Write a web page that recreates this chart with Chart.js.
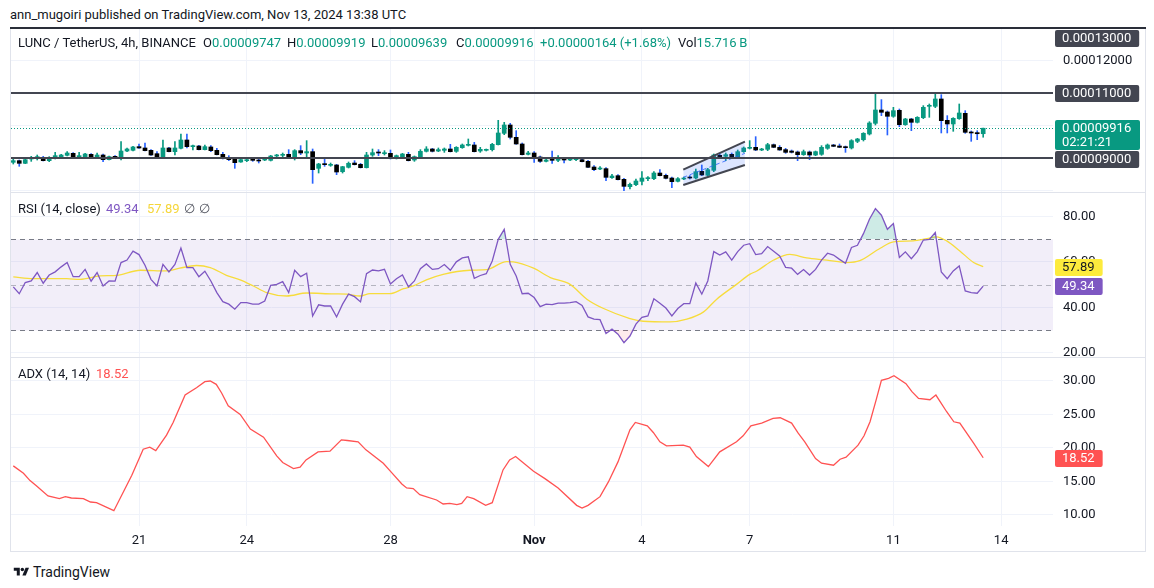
<!DOCTYPE html>
<html>
<head>
<meta charset="utf-8">
<title>LUNC / TetherUS, 4h</title>
<script src="https://cdn.jsdelivr.net/npm/chart.js@4.4.1/dist/chart.umd.min.js"></script>
<style>
  body{margin:0;background:#fff;}
  #page{position:relative;width:1154px;height:588px;overflow:hidden;font-family:Roboto,"Noto Sans",sans-serif;color:#131722;font-size:13px;}
  .t{position:absolute;white-space:nowrap;line-height:16px;z-index:3}
  .g{color:#089981}
  canvas{position:absolute;left:11px}
  .ln{position:absolute;background:#e0e3eb;z-index:2}
</style>
</head>
<body>
<div id="page">
  <div class="t" style="left:10px;top:7px">ann_mugoiri published on TradingView.com, Nov 13, 2024 13:38 UTC</div>

  <canvas id="cPrice" width="1134" height="165" style="top:28px"></canvas>
  <canvas id="cRsi" width="1134" height="165" style="top:193px"></canvas>
  <canvas id="cAdx" width="1134" height="193" style="top:358px"></canvas>

  <div class="ln" style="left:10px;top:28px;width:1px;height:524px"></div>
  <div class="ln" style="left:1145px;top:28px;width:1px;height:524px"></div>
  <div class="ln" style="left:10px;top:551px;width:1136px;height:1px"></div>
  <div class="ln" style="left:10px;top:192px;width:1136px;height:1px"></div>
  <div class="ln" style="left:10px;top:357px;width:1136px;height:1px"></div>
  <div style="position:absolute;left:10px;top:27px;width:1136px;height:2px;background:#2a2e39;z-index:2"></div>

  <div class="t" style="left:18px;top:35px">LUNC / TetherUS, 4h, BINANCE</div>
  <div class="t" style="left:203px;top:35px">O<span class="g">0.00009747</span></div>
  <div class="t" style="left:287px;top:35px">H<span class="g">0.00009919</span></div>
  <div class="t" style="left:371px;top:35px">L<span class="g">0.00009639</span></div>
  <div class="t" style="left:456px;top:35px">C<span class="g">0.00009916</span></div>
  <div class="t g" style="left:540px;top:35px">+0.00000164 (+1.68%)</div>
  <div class="t" style="left:678px;top:35px">Vol<span class="g">15.716&thinsp;B</span></div>

  <div class="t" style="left:18px;top:201px">RSI (14, close)</div>
  <div class="t" style="left:106px;top:201px;color:#7e57c2">49.34</div>
  <div class="t" style="left:147px;top:201px;color:#f5d63a">57.89</div>
  <div class="t" style="left:184px;top:201px;color:#50535e">&empty;</div>
  <div class="t" style="left:199px;top:201px;color:#50535e">&empty;</div>

  <div class="t" style="left:18px;top:366px">ADX (14, 14)</div>
  <div class="t" style="left:96px;top:366px;color:#ff5252">18.52</div>

  <svg style="position:absolute;left:13px;top:566px" width="17" height="12" viewBox="0 0 36 28">
    <path d="M14 22H7V11H0V4h14v18z" fill="#131722"/><circle cx="20" cy="8" r="4" fill="#131722"/><path d="M28 22h-8l7.5-18h8L28 22z" fill="#131722"/>
  </svg>
  <div class="t" style="left:33px;top:564px;font-size:14px">TradingView</div>
</div>

<script>
// LUNC/USDT 4h candles, index 0 = Oct 17 12:00 UTC, one bar every 4 hours
const open = [
  8867e-8,8918e-8,8836e-8,8969e-8,8979e-8,9021e-8,8918e-8,9010e-8,9041e-8,9082e-8,
  9144e-8,9041e-8,9031e-8,9113e-8,9021e-8,9092e-8,8949e-8,9031e-8,9010e-8,9215e-8,
  9236e-8,9349e-8,9308e-8,9236e-8,9133e-8,9041e-8,9308e-8,9195e-8,9298e-8,9554e-8,
  9349e-8,9369e-8,9257e-8,9339e-8,9236e-8,9113e-8,9000e-8,8959e-8,8877e-8,8918e-8,
  8949e-8,8928e-8,8938e-8,8928e-8,9062e-8,9082e-8,9113e-8,8990e-8,9226e-8,9154e-8,
  9195e-8,8682e-8,8815e-8,8774e-8,8785e-8,8579e-8,8713e-8,8846e-8,8805e-8,8702e-8,
  9092e-8,9164e-8,9133e-8,9144e-8,8990e-8,9031e-8,9113e-8,8938e-8,9031e-8,9205e-8,
  9277e-8,9215e-8,9236e-8,9277e-8,9205e-8,9318e-8,9390e-8,9400e-8,9215e-8,9236e-8,
  9257e-8,9410e-8,9759e-8,10016e-8,9636e-8,9431e-8,9113e-8,9154e-8,9031e-8,8897e-8,
  8938e-8,8928e-8,8949e-8,8938e-8,8949e-8,8949e-8,8897e-8,8723e-8,8661e-8,8672e-8,
  8395e-8,8456e-8,8343e-8,8118e-8,8179e-8,8282e-8,8364e-8,8364e-8,8538e-8,8467e-8,
  8384e-8,8282e-8,8354e-8,8395e-8,8384e-8,8590e-8,8467e-8,8620e-8,9082e-8,9051e-8,
  9113e-8,9010e-8,9195e-8,9298e-8,9328e-8,9246e-8,9267e-8,9410e-8,9328e-8,9257e-8,
  9215e-8,9185e-8,9103e-8,9185e-8,9092e-8,9113e-8,9298e-8,9400e-8,9369e-8,9349e-8,
  9308e-8,9513e-8,9564e-8,9739e-8,10067e-8,10477e-8,10416e-8,10283e-8,10467e-8,10026e-8,
  10200e-8,10098e-8,10241e-8,10590e-8,10590e-8,10816e-8,10159e-8,10047e-8,10211e-8,10375e-8,
  9800e-8,9780e-8,9747e-8
];
const high = [
  8969e-8,8938e-8,8959e-8,9051e-8,9092e-8,9051e-8,9041e-8,9174e-8,9113e-8,9195e-8,
  9164e-8,9174e-8,9144e-8,9133e-8,9154e-8,9123e-8,9062e-8,9072e-8,9503e-8,9308e-8,
  9359e-8,9431e-8,9462e-8,9257e-8,9195e-8,9554e-8,9328e-8,9503e-8,9739e-8,9739e-8,
  9400e-8,9390e-8,9400e-8,9380e-8,9298e-8,9174e-8,9072e-8,8990e-8,8959e-8,9000e-8,
  9000e-8,8969e-8,9000e-8,9082e-8,9113e-8,9154e-8,9257e-8,9257e-8,9380e-8,9534e-8,
  9277e-8,8836e-8,8969e-8,8846e-8,8805e-8,8744e-8,8877e-8,8918e-8,8836e-8,9174e-8,
  9277e-8,9257e-8,9226e-8,9246e-8,9092e-8,9144e-8,9174e-8,9062e-8,9257e-8,9349e-8,
  9298e-8,9308e-8,9308e-8,9421e-8,9349e-8,9431e-8,9585e-8,9482e-8,9328e-8,9277e-8,
  9451e-8,10159e-8,10098e-8,10067e-8,9841e-8,9462e-8,9205e-8,9195e-8,9062e-8,8969e-8,
  9215e-8,9072e-8,9021e-8,9021e-8,8990e-8,8990e-8,8928e-8,8764e-8,8733e-8,8702e-8,
  8497e-8,8487e-8,8374e-8,8231e-8,8354e-8,8579e-8,8425e-8,8579e-8,8641e-8,8508e-8,
  8415e-8,8395e-8,8415e-8,8456e-8,8661e-8,8785e-8,8682e-8,9123e-8,9123e-8,9154e-8,
  9154e-8,9246e-8,9339e-8,9534e-8,9657e-8,9298e-8,9451e-8,9431e-8,9380e-8,9298e-8,
  9246e-8,9215e-8,9246e-8,9215e-8,9215e-8,9380e-8,9431e-8,9421e-8,9431e-8,9369e-8,
  9564e-8,9605e-8,9780e-8,10118e-8,11001e-8,10796e-8,10447e-8,10560e-8,10508e-8,10221e-8,
  10221e-8,10272e-8,10611e-8,10662e-8,11021e-8,10949e-8,10303e-8,10241e-8,10662e-8,10457e-8,
  9831e-8,9841e-8,9919e-8
];
const low = [
  8815e-8,8744e-8,8826e-8,8897e-8,8938e-8,8908e-8,8887e-8,8969e-8,9010e-8,9062e-8,
  9010e-8,9000e-8,9010e-8,8979e-8,8990e-8,8887e-8,8938e-8,8990e-8,8938e-8,9195e-8,
  9215e-8,9298e-8,9215e-8,9082e-8,9021e-8,9010e-8,9185e-8,9092e-8,9277e-8,9308e-8,
  9246e-8,9246e-8,9246e-8,9195e-8,9092e-8,8969e-8,8918e-8,8682e-8,8867e-8,8887e-8,
  8897e-8,8846e-8,8918e-8,8908e-8,9041e-8,9041e-8,8979e-8,8938e-8,9103e-8,9041e-8,
  8220e-8,8538e-8,8744e-8,8744e-8,8487e-8,8538e-8,8692e-8,8785e-8,8692e-8,8692e-8,
  9051e-8,9072e-8,9092e-8,8969e-8,8969e-8,9010e-8,8908e-8,8897e-8,9010e-8,9185e-8,
  9185e-8,9195e-8,9174e-8,9185e-8,9174e-8,9298e-8,9369e-8,9185e-8,9174e-8,9215e-8,
  9215e-8,9400e-8,9718e-8,9585e-8,9421e-8,9092e-8,9092e-8,8867e-8,8867e-8,8877e-8,
  8836e-8,8887e-8,8846e-8,8918e-8,8918e-8,8877e-8,8702e-8,8610e-8,8641e-8,8302e-8,
  8374e-8,8323e-8,7995e-8,8046e-8,8148e-8,8169e-8,8302e-8,8333e-8,8446e-8,8354e-8,
  8087e-8,8261e-8,8333e-8,8354e-8,8354e-8,8456e-8,8446e-8,8579e-8,9010e-8,8918e-8,
  8990e-8,8990e-8,9174e-8,9277e-8,9226e-8,9226e-8,9226e-8,9318e-8,9236e-8,9144e-8,
  9154e-8,8918e-8,9082e-8,8949e-8,9072e-8,9082e-8,9267e-8,9349e-8,9318e-8,9174e-8,
  9277e-8,9472e-8,9523e-8,9708e-8,10016e-8,10303e-8,9708e-8,10252e-8,9964e-8,10005e-8,
  9841e-8,10077e-8,10211e-8,10252e-8,10549e-8,9770e-8,9770e-8,9821e-8,10190e-8,9759e-8,
  9513e-8,9564e-8,9639e-8
];
const close = [
  8918e-8,8836e-8,8949e-8,9000e-8,9041e-8,8918e-8,9021e-8,9072e-8,9092e-8,9154e-8,
  9021e-8,9072e-8,9123e-8,8990e-8,9092e-8,8949e-8,9041e-8,9021e-8,9215e-8,9277e-8,
  9339e-8,9308e-8,9226e-8,9092e-8,9041e-8,9308e-8,9195e-8,9308e-8,9554e-8,9349e-8,
  9380e-8,9257e-8,9349e-8,9226e-8,9103e-8,8990e-8,8949e-8,8856e-8,8949e-8,8949e-8,
  8928e-8,8908e-8,8969e-8,9062e-8,9092e-8,9092e-8,8990e-8,9226e-8,9154e-8,9195e-8,
  8641e-8,8815e-8,8795e-8,8805e-8,8569e-8,8733e-8,8836e-8,8795e-8,8702e-8,9092e-8,
  9164e-8,9154e-8,9164e-8,8990e-8,9072e-8,9123e-8,8918e-8,9041e-8,9205e-8,9277e-8,
  9205e-8,9257e-8,9277e-8,9195e-8,9328e-8,9400e-8,9410e-8,9195e-8,9267e-8,9267e-8,
  9421e-8,9770e-8,10016e-8,9636e-8,9431e-8,9103e-8,9154e-8,9021e-8,8897e-8,8938e-8,
  8928e-8,8959e-8,8938e-8,8969e-8,8959e-8,8887e-8,8713e-8,8641e-8,8692e-8,8405e-8,
  8446e-8,8333e-8,8128e-8,8189e-8,8292e-8,8384e-8,8395e-8,8538e-8,8456e-8,8374e-8,
  8272e-8,8364e-8,8384e-8,8384e-8,8579e-8,8477e-8,8641e-8,9092e-8,9041e-8,9103e-8,
  9000e-8,9195e-8,9308e-8,9328e-8,9246e-8,9277e-8,9410e-8,9328e-8,9246e-8,9174e-8,
  9174e-8,9103e-8,9195e-8,9092e-8,9195e-8,9328e-8,9400e-8,9359e-8,9328e-8,9318e-8,
  9534e-8,9585e-8,9759e-8,10077e-8,10477e-8,10406e-8,10283e-8,10457e-8,10026e-8,10200e-8,
  10098e-8,10252e-8,10560e-8,10621e-8,10816e-8,10149e-8,10047e-8,10221e-8,10385e-8,9790e-8,
  9770e-8,9747e-8,9916e-8
];

// RSI(14) per candle
const rsi = [
  49.0,46.0,50.9,51.6,55.3,50.6,54.2,55.6,57.8,59.7,
  53.5,53.5,56.7,51.5,55.3,49.4,51.6,51.5,59.7,60.8,
  64.7,63.2,58.5,52.3,49.4,58.9,55.6,58.9,66.1,57.5,
  57.5,53.5,55.9,51.6,46.5,42.5,41.4,39.2,42.1,42.1,
  41.4,41.4,42.8,49.7,50.1,51.3,46.5,56.3,53.5,55.0,
  36.2,41.1,40.6,40.6,35.8,41.4,45.8,44.7,42.4,54.8,
  56.4,56.0,56.7,50.3,52.6,54.2,49.0,51.6,57.0,59.1,
  56.7,57.0,58.8,56.3,60.0,61.7,62.2,52.8,54.0,54.8,
  60.4,69.9,74.3,58.9,53.8,46.0,46.2,44.3,40.3,41.4,
  41.2,41.9,41.9,42.1,42.5,40.8,35.8,34.8,34.6,28.5,
  30.4,28.2,24.5,27.4,32.6,35.6,36.2,43.8,41.8,39.7,
  36.2,39.5,41.6,41.6,50.7,45.8,51.6,64.5,63.0,64.4,
  60.8,64.5,67.3,68.0,63.2,63.6,66.7,64.7,62.6,57.6,
  57.2,54.5,56.6,54.2,56.7,60.8,63.8,63.0,61.1,59.4,
  66.3,67.3,72.4,78.7,83.4,80.5,74.3,76.8,61.9,64.4,
  61.4,64.5,69.6,69.9,72.9,55.6,52.6,56.0,58.2,47.2,
  46.5,46.2,49.34
];
// RSI-based MA, read at these candle positions
const rsiMaIdx = [0,3.3,8.9,11.1,14.5,17.3,21.2,25.6,27.8,30.6,32.9,35.6,37.9,40.1,42.3,45.7,49,53.5,55.7,57.9,
  59.6,62.9,65.2,66.8,69,71.8,76.3,79.1,82.4,83.5,86.9,89.7,93,95.8,98.5,103,105.2,109.7,112.5,115.3,
  117.5,120.8,123,124.2,127,129.7,132.5,135.9,139.2,141.4,144.8,147,150.3,152.6,154.2,155.9,158.1,160.4,162];
const rsiMaVal = [53.4,52.6,52.6,52.3,53.8,54.1,56.3,56.0,57.2,58.4,57.5,54.1,52.1,49.4,46.5,45.0,46.3,45.9,45.8,45.0,
  46.0,46.0,48.2,49.4,52.1,54.5,56.3,56.6,60.1,60.0,57.2,53.1,50.1,43.6,39.6,35.1,33.9,33.6,34.8,38.0,
  43.6,50.1,54.5,56.0,60.8,63.3,61.7,60.8,59.7,60.5,66.0,68.8,69.2,70.2,71.0,69.2,64.8,59.7,57.89];

// ADX(14,14)
const adxIdx = [0,1.7,2.8,3.9,5.8,7.7,8.7,9.7,11.7,12.9,13.9,16.8,19.8,21.7,22.8,23.8,25.6,26.7,28.7,30.6,
  32,32.9,33.9,34.8,35.9,37.9,39.6,41.8,44,45,46.8,47.9,48.9,50.9,52.9,54.8,55.8,57.6,58.9,61.8,
  63.2,64.9,65.7,66.8,67.9,70.7,71.8,72.9,74.1,74.9,75.8,76.9,78.9,80,81.8,82.9,83.9,86.9,88.8,91,
  94.1,95,96,98,99.4,101,103,103.9,105.9,106.9,108,109.1,111.9,113,114.1,116.1,118,120.8,121.9,123.2,
  125,126.9,128.1,130,131.1,132.2,134,135,137,138.1,139.1,141.1,142.1,143.1,144.1,145,146.2,147.1,149.1,150.1,
  151.2,153.1,154.1,155.9,157.1,158.1,160.4,162];
const adxVal = [17.3,16.2,15.1,14.3,12.8,12.4,12.7,12.5,12.4,11.9,11.8,10.6,15.9,19.8,20.1,19.6,21.9,23.8,27.9,29.0,
  29.9,30.0,29.5,28.2,26.3,25.0,22.8,21.6,18.8,17.8,16.9,17.1,18.2,19.4,19.5,21.2,21.1,20.9,19.7,17.7,
  16.3,14.6,14.0,13.9,13.0,12.2,11.6,11.7,11.5,11.7,12.7,12.4,11.4,11.8,16.7,18.2,18.7,16.5,15.4,14.0,
  11.4,11.0,11.4,12.7,14.9,17.9,22.7,23.8,23.3,22.3,20.9,20.3,20.4,20.1,18.7,17.2,19.4,20.9,21.8,23.3,
  23.7,24.4,24.5,23.7,22.2,20.9,18.4,17.7,17.4,18.3,18.6,20.4,21.8,23.9,27.1,30.1,30.4,30.8,29.6,28.4,
  27.4,27.2,27.9,25.4,23.9,23.7,20.7,18.52];

// drawings: horizontal levels + parallel channel
const levels = [0.00013, 0.00011, 0.00009];
const channelIdx = [111.9, 122.2];
const channelHigh = [8641e-8, 9503e-8];
const channelLow = [8169e-8, 8785e-8];

// axes
const xTickIdx = [21, 39, 63, 87, 105, 123, 147, 165];
const xTickLabels = ['21', '24', '28', 'Nov', '4', '7', '11', '14'];
const priceTicks = [0.00008, 0.00009, 0.0001, 0.00011, 0.00012, 0.00013];
const priceLabelTicks = ['0.00012000'];
const rsiTicks = [20, 40, 60, 80];
const adxTicks = [10, 15, 20, 25, 30];
const rsiUpper = 70, rsiMid = 50, rsiLower = 30;
const countdown = '02:21:21';

const FONT = 'Roboto, "Noto Sans", sans-serif';
const UP = '#089981', DOWN = '#000000', DOWN_WICK = '#2962ff', GRID = '#f0f3fa';
const X_MIN = -0.38, X_MAX = 173.66, AXIS_W = 92;

const last = close.length - 1;

function xAxis(show){
  return {
    type: 'linear', min: X_MIN, max: X_MAX, offset: false,
    afterBuildTicks: s => { s.ticks = xTickIdx.map(v => ({ value: v })); },
    afterFit: s => { s.height = show ? 25 : 0; s.paddingLeft = 0; s.paddingRight = 0; },
    grid: { color: GRID, drawTicks: false, offset: false },
    border: { display: false },
    ticks: {
      display: show, padding: 7, color: '#131722', maxRotation: 0, autoSkip: false,
      font: c => ({ family: FONT, size: 13, weight: xTickLabels[c.index] === 'Nov' ? 'bold' : 'normal' }),
      callback: (v, i) => xTickLabels[i]
    }
  };
}

function yAxis(min, max, ticks, fmt){
  return {
    position: 'right', min, max,
    afterBuildTicks: s => { s.ticks = ticks.map(v => ({ value: v })); },
    afterFit: s => { s.width = AXIS_W; s.paddingTop = 0; s.paddingBottom = 0; },
    grid: { color: GRID, drawTicks: false },
    border: { display: false },
    ticks: { padding: 10, color: '#131722', font: { family: FONT, size: 13 }, callback: fmt }
  };
}

// labels in the right axis (last values, drawing levels)
function tagPlugin(id, tags){
  return { id, afterDraw(chart){
    const { ctx, chartArea: a, scales: { y } } = chart;
    ctx.save();
    ctx.font = `13px ${FONT}`; ctx.textBaseline = 'middle'; ctx.textAlign = 'left';
    let prevBottom = -1e9;
    tags.map(t => ({ ...t, py: y.getPixelForValue(t.value) }))
      .sort((p, q) => p.py - q.py)
      .forEach(t => {
        const h = t.sub ? 30 : 17;
        let top = Math.round(t.py) - 8;
        top = Math.max(a.top + 2, top, prevBottom + 1);
        const w = t.wide ? 85 : ctx.measureText(t.text).width + 15;
        ctx.fillStyle = t.bg;
        ctx.beginPath(); ctx.roundRect(a.right + 2, top, w, h, 2); ctx.fill();
        ctx.fillStyle = t.fg;
        ctx.fillText(t.text, a.right + 9, top + 9);
        if (t.sub) ctx.fillText(t.sub, a.right + 9, top + 23);
        prevBottom = top + h;
      });
    ctx.restore();
  }};
}

const priceLines = { id: 'priceLines', afterDatasetsDraw(chart){
  const { ctx, chartArea: a, scales: { y } } = chart;
  ctx.save();
  ctx.beginPath(); ctx.rect(a.left, a.top, a.width, a.height); ctx.clip();
  const yc = Math.round(y.getPixelForValue(close[last])) + 0.5;
  ctx.strokeStyle = UP; ctx.lineWidth = 1; ctx.setLineDash([1, 2]);
  ctx.beginPath(); ctx.moveTo(a.left, yc); ctx.lineTo(a.right, yc); ctx.stroke();
  ctx.setLineDash([]);
  ctx.strokeStyle = '#434651'; ctx.lineWidth = 2;
  levels.forEach(v => {
    const py = Math.round(y.getPixelForValue(v));
    ctx.beginPath(); ctx.moveTo(a.left, py); ctx.lineTo(a.right, py); ctx.stroke();
  });
  ctx.restore();
}};

const rsiBand = { id: 'rsiBand', beforeDatasetsDraw(chart){
  const { ctx, chartArea: a, scales: { y } } = chart;
  const y70 = Math.round(y.getPixelForValue(rsiUpper)) + 0.5;
  const y50 = Math.round(y.getPixelForValue(rsiMid)) + 0.5;
  const y30 = Math.round(y.getPixelForValue(rsiLower)) + 0.5;
  ctx.save();
  ctx.fillStyle = 'rgba(126,87,194,0.1)';
  ctx.fillRect(a.left, y70, a.width, y30 - y70);
  ctx.lineWidth = 1; ctx.setLineDash([5, 4]);
  const hline = py => { ctx.beginPath(); ctx.moveTo(a.left, py); ctx.lineTo(a.right, py); ctx.stroke(); };
  ctx.strokeStyle = '#787b86'; hline(y70); hline(y30);
  ctx.strokeStyle = 'rgba(120,123,134,0.5)'; hline(y50);
  ctx.restore();
}};

const base = {
  responsive: false, animation: false, events: [],
  layout: { padding: 0 },
  plugins: { legend: { display: false }, tooltip: { enabled: false } }
};

// price pane
const isUp = open.map((o, i) => close[i] >= o);
new Chart(document.getElementById('cPrice'), {
  type: 'bar',
  data: { datasets: [
    { type: 'line', data: channelIdx.map((x, i) => ({ x, y: channelHigh[i] })), borderColor: '#434651', borderWidth: 2, pointRadius: 0, order: 0 },
    { type: 'line', data: channelIdx.map((x, i) => ({ x, y: channelLow[i] })), borderColor: '#434651', borderWidth: 2, pointRadius: 0, order: 0,
      fill: '-1', backgroundColor: 'rgba(41,98,255,0.16)' },
    { type: 'line', data: channelIdx.map((x, i) => ({ x, y: (channelHigh[i] + channelLow[i]) / 2 })), borderColor: 'rgba(41,98,255,0.8)',
      borderWidth: 1, borderDash: [4, 3], pointRadius: 0, order: 0 },
    { data: open.map((o, i) => ({ x: i, y: [o, close[i]] })), backgroundColor: isUp.map(u => u ? UP : DOWN),
      barThickness: 4, minBarLength: 1, grouped: false, order: 1 },
    { data: open.map((o, i) => ({ x: i, y: [low[i], high[i]] })), backgroundColor: isUp.map(u => u ? UP : DOWN_WICK),
      barThickness: 1, grouped: false, order: 2 }
  ]},
  options: { ...base, scales: {
    x: xAxis(false),
    y: yAxis(0.00007923, 0.00013, priceTicks, v => priceLabelTicks.includes(v.toFixed(8)) ? v.toFixed(8) : '')
  }},
  plugins: [priceLines, tagPlugin('priceTags', [
    ...levels.map(v => ({ value: v, text: v.toFixed(8), bg: '#434651', fg: '#ffffff' })),
    { value: close[last], text: close[last].toFixed(8), sub: countdown, wide: true, bg: UP, fg: '#ffffff' }
  ])]
});

// RSI pane
new Chart(document.getElementById('cRsi'), {
  type: 'line',
  data: { datasets: [
    { data: rsi.map((v, i) => ({ x: i, y: v })), borderColor: '#7e57c2', borderWidth: 1.3, pointRadius: 0,
      fill: { target: { value: rsiUpper }, above: 'rgba(8,153,129,0.2)', below: 'rgba(0,0,0,0)' } },
    { data: rsi.map((v, i) => ({ x: i, y: v })), borderWidth: 0, pointRadius: 0,
      fill: { target: { value: rsiLower }, above: 'rgba(0,0,0,0)', below: 'rgba(242,54,69,0.1)' } },
    { data: rsiMaIdx.map((x, i) => ({ x, y: rsiMaVal[i] })), borderColor: '#f7dc3c', borderWidth: 1.3, pointRadius: 0,
      cubicInterpolationMode: 'monotone' }
  ]},
  options: { ...base, scales: {
    x: xAxis(false),
    y: yAxis(17.74, 90.26, rsiTicks, v => v.toFixed(2))
  }},
  plugins: [rsiBand, tagPlugin('rsiTags', [
    { value: rsiMaVal[rsiMaVal.length - 1], text: rsiMaVal[rsiMaVal.length - 1].toFixed(2), bg: '#fdeb3d', fg: '#131722' },
    { value: rsi[last], text: rsi[last].toFixed(2), bg: '#7e57c2', fg: '#ffffff' }
  ])]
});

// ADX pane
new Chart(document.getElementById('cAdx'), {
  type: 'line',
  data: { datasets: [
    { data: adxIdx.map((x, i) => ({ x, y: adxVal[i] })), borderColor: '#ff5252', borderWidth: 1.3, pointRadius: 0 }
  ]},
  options: { ...base, scales: {
    x: xAxis(true),
    y: yAxis(8.31, 33.44, adxTicks, v => v.toFixed(2))
  }},
  plugins: [tagPlugin('adxTags', [
    { value: adxVal[adxVal.length - 1], text: adxVal[adxVal.length - 1].toFixed(2), bg: '#ff5252', fg: '#ffffff' }
  ])]
});
</script>
</body>
</html>
